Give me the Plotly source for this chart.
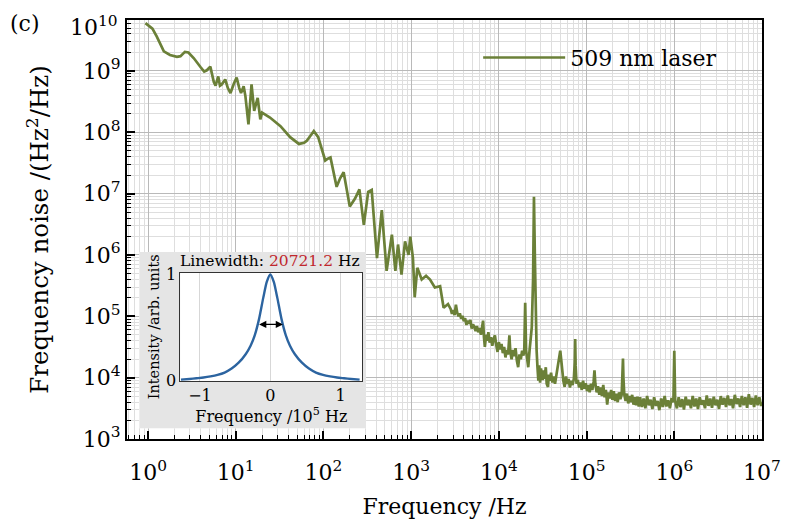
import numpy as np
import plotly.graph_objects as go

# ---------------- data ----------------
# main spectrum: log10(frequency / Hz) and log10(noise / (Hz^2/Hz))
log_freq = [
    -0.03, 0.05, 0.10, 0.14, 0.18, 0.25, 0.33, 0.37, 0.42, 0.46, 0.52, 0.60, 0.64, 0.67, 0.71,
    0.75, 0.77, 0.80, 0.82, 0.84, 0.88, 0.91, 0.94, 0.98, 1.01, 1.04, 1.06, 1.09, 1.11, 1.145,
    1.18, 1.21, 1.25, 1.28, 1.30, 1.39, 1.51, 1.62, 1.72, 1.78, 1.81, 1.86, 1.89, 1.94, 2.02,
    2.05, 2.08, 2.15, 2.19, 2.23, 2.27, 2.30, 2.36, 2.41, 2.46, 2.51, 2.55, 2.61, 2.665, 2.72,
    2.78, 2.82, 2.85, 2.89, 2.93, 2.97, 2.99, 3.02, 3.04, 3.07, 3.12, 3.17, 3.215, 3.27, 3.33,
    3.35, 3.37, 3.42,
    3.45, 3.465, 3.48, 3.495, 3.51, 3.525, 3.54, 3.555, 3.57, 3.585, 3.60, 3.615, 3.63, 3.645,
    3.66, 3.675, 3.69, 3.705, 3.72, 3.735, 3.75, 3.765, 3.78, 3.795, 3.81, 3.82, 3.83, 3.84,
    3.855, 3.87, 3.88, 3.895, 3.91, 3.925, 3.94, 3.955, 3.97, 3.985, 4.00, 4.015, 4.03, 4.045,
    4.06, 4.075, 4.09, 4.105, 4.12, 4.13, 4.145, 4.16, 4.175, 4.19, 4.205, 4.22, 4.235, 4.25,
    4.265, 4.28, 4.29, 4.30, 4.31, 4.32, 4.335, 4.35, 4.365, 4.375, 4.39, 4.40, 4.41, 4.42,
    4.43, 4.44, 4.45, 4.46, 4.47, 4.48, 4.49, 4.50, 4.51, 4.52, 4.535, 4.545, 4.56, 4.57,
    4.58, 4.595, 4.61, 4.625, 4.64, 4.655, 4.67, 4.685, 4.70, 4.71, 4.72, 4.735, 4.75, 4.765,
    4.78, 4.795, 4.81, 4.825, 4.84, 4.855, 4.865, 4.87, 4.875, 4.885, 4.90, 4.915, 4.93, 4.945,
    4.96, 4.975, 4.99, 5.005, 5.02, 5.035, 5.05, 5.065, 5.08, 5.09, 5.10, 5.115, 5.13, 5.145,
    5.16, 5.175, 5.19, 5.205, 5.22, 5.235, 5.25, 5.265, 5.28, 5.295, 5.31, 5.325, 5.34, 5.355,
    5.37, 5.385, 5.40, 5.41, 5.415, 5.42, 5.43, 5.445, 5.46, 5.475, 5.49, 5.505, 5.52, 5.535,
    5.55, 5.565, 5.58, 5.595,
    5.61, 5.63, 5.65, 5.67, 5.69, 5.71, 5.73,
    5.75, 5.77, 5.79, 5.81, 5.83, 5.85, 5.87, 5.89, 5.91, 5.93, 5.95, 5.97, 5.99, 6.00, 6.01,
    6.03, 6.05, 6.07, 6.09, 6.11, 6.13, 6.15, 6.17, 6.19, 6.21, 6.23, 6.25, 6.27, 6.29, 6.31,
    6.33, 6.35, 6.37, 6.39, 6.41, 6.43, 6.45, 6.47, 6.49, 6.51, 6.53, 6.55, 6.57, 6.59, 6.61,
    6.63, 6.65, 6.67, 6.69, 6.71, 6.73, 6.75, 6.77, 6.79, 6.81, 6.83, 6.85, 6.87, 6.89, 6.91,
    6.93, 6.95, 6.97, 6.99, 7.00,
]
log_noise = [
    9.78, 9.69, 9.56, 9.43, 9.32, 9.26, 9.23, 9.24, 9.31, 9.30, 9.21, 9.06, 8.99, 9.01, 9.07,
    8.82, 8.76, 8.91, 8.76, 8.78, 8.86, 8.72, 8.64, 8.80, 8.89, 8.72, 8.64, 8.75, 8.59, 8.13,
    8.78, 8.35, 8.56, 8.21, 8.32, 8.24, 8.10, 7.92, 7.81, 7.83, 7.86, 7.96, 8.02, 7.92, 7.54,
    7.57, 7.59, 7.11, 7.25, 7.35, 7.00, 6.79, 6.92, 7.07, 6.49, 7.03, 7.06, 5.95, 6.73, 5.74,
    6.33, 5.74, 6.17, 5.68, 6.22, 6.00, 6.30, 5.95, 5.31, 5.79, 5.60, 5.66, 5.60, 5.47, 5.49,
    5.31, 5.14, 5.20,
    5.12, 5.04, 5.10, 5.02, 5.19, 5.06, 5.00, 5.05, 4.96, 5.01, 4.92, 4.97, 4.86, 4.93,
    4.88, 4.94, 4.80, 4.87, 4.83, 4.76, 4.84, 4.74, 4.81, 4.70, 4.82, 4.93, 4.66, 4.50,
    4.70, 4.60, 4.74, 4.57, 4.66, 4.52, 4.63, 4.69, 4.53, 4.42, 4.58, 4.46, 4.55, 4.40,
    4.50, 4.33, 4.45, 4.38, 4.69, 4.42, 4.30, 4.45, 4.35, 4.48, 4.28, 4.17, 4.38, 4.30,
    4.44, 4.36, 4.47, 5.22, 4.45, 4.30, 4.17, 4.45, 4.62, 4.82, 5.60, 6.95, 6.00, 5.10,
    4.45, 4.17, 3.95, 4.20, 3.92, 4.15, 4.00, 3.96, 4.12, 3.98, 4.17, 3.90, 3.85, 4.05,
    3.95, 4.08, 3.92, 4.02, 3.90, 4.05, 4.15, 4.35, 4.44, 4.30, 4.12, 3.95, 3.85, 4.02,
    3.90, 3.98, 3.84, 3.95, 3.88, 3.98, 4.25, 4.63, 4.20, 3.90, 3.96, 3.84, 3.92, 3.80,
    3.95, 3.82, 3.91, 3.78, 3.88, 3.76, 3.90, 3.80, 3.93, 4.12, 3.90, 3.76, 3.86, 3.72,
    3.84, 3.70, 3.88, 3.68, 3.80, 3.56, 3.76, 3.66, 3.80, 3.64, 3.78, 3.62, 3.74, 3.60,
    3.76, 3.65, 3.72, 4.00, 4.31, 4.00, 3.72, 3.62, 3.74, 3.58, 3.70, 3.60, 3.72, 3.56,
    3.68, 3.55, 3.69, 3.53,
    3.68, 3.52, 3.66, 3.50, 3.70, 3.55, 3.64,
    3.49, 3.68, 3.54, 3.62, 3.47, 3.66, 3.52, 3.70, 3.53, 3.63, 3.50, 3.67, 3.60, 4.44, 3.62,
    3.50, 3.68, 3.52, 3.65, 3.48, 3.69, 3.55, 3.64, 3.50, 3.70, 3.53, 3.66, 3.49, 3.68, 3.56,
    3.63, 3.50, 3.71, 3.54, 3.66, 3.51, 3.69, 3.55, 3.64, 3.49, 3.70, 3.56, 3.67, 3.52, 3.71,
    3.55, 3.65, 3.50, 3.72, 3.57, 3.66, 3.52, 3.70, 3.55, 3.68, 3.51, 3.73, 3.56, 3.67, 3.52,
    3.71, 3.55, 3.68, 3.54, 3.60,
]

# inset: laser line shape (frequency in units of 1e5 Hz, normalized intensity)
inset_freq = [-1.27, -1.15, -1.05, -0.95, -0.85, -0.75, -0.65, -0.55, -0.45, -0.35, -0.28,
              -0.22, -0.16, -0.10, -0.05, 0.0, 0.05, 0.10, 0.16, 0.22, 0.28, 0.35, 0.45,
              0.55, 0.65, 0.75, 0.85, 0.95, 1.05, 1.15, 1.27]
inset_int = [0.010, 0.017, 0.024, 0.031, 0.041, 0.055, 0.077, 0.115, 0.17, 0.25, 0.33,
             0.43, 0.58, 0.78, 0.93, 1.0, 0.93, 0.78, 0.58, 0.43, 0.33, 0.25, 0.17,
             0.115, 0.077, 0.055, 0.041, 0.031, 0.024, 0.017, 0.010]
arrow_x = [-0.18, 0.18]
arrow_y = 0.53
linewidth_text = "20721.2"

x_tick_exp = [0, 1, 2, 3, 4, 5, 6, 7]
y_tick_exp = [3, 4, 5, 6, 7, 8, 9]

# ---------------- figure ----------------
FONT = "DejaVu Serif"
GREEN = "#6b8038"
BLUE = "#2c64a0"

freq = np.power(10.0, log_freq)
noise = np.power(10.0, log_noise)

fig = go.Figure()
fig.add_trace(go.Scatter(x=freq, y=noise, mode="lines", name="509 nm laser",
                         line=dict(color=GREEN, width=2.7), xaxis="x", yaxis="y",
                         showlegend=True))
fig.add_trace(go.Scatter(x=inset_freq, y=inset_int, mode="lines", line=dict(color=BLUE, width=2.4,
                         shape="spline", smoothing=0.6), xaxis="x3", yaxis="y3", showlegend=False))

major_grid = "rgb(185,185,185)"
minor_grid = "rgb(222,222,222)"

fig.update_layout(
    width=800, height=527,
    margin=dict(l=127, r=38, t=20, b=84),
    paper_bgcolor="white", plot_bgcolor="white",
    font=dict(family=FONT, size=22, color="black"),
    xaxis=dict(
        type="log", range=[-0.24, 7.0], domain=[0, 1],
        tickvals=[10 ** e for e in x_tick_exp],
        ticktext=[f"10<sup>{e}</sup>" for e in x_tick_exp],
        ticks="inside", ticklen=8, tickwidth=1.5, tickcolor="black",
        showline=True, linecolor="black", linewidth=2, mirror=True,
        showgrid=True, gridcolor=major_grid, gridwidth=1, zeroline=False,
        minor=dict(dtick="D1", ticks="inside", ticklen=4, tickwidth=1.2, tickcolor="black",
                   showgrid=True, gridcolor=minor_grid, gridwidth=1),
        tickfont=dict(size=22), ticklabelstandoff=13,
        title=dict(text="Frequency /Hz", font=dict(size=22), standoff=14),
    ),
    yaxis=dict(
        type="log", range=[3.0, 9.83], domain=[0, 1],
        tickvals=[10 ** e for e in y_tick_exp],
        ticktext=[f"10<sup>{e}</sup>" for e in y_tick_exp],
        ticks="inside", ticklen=8, tickwidth=1.5, tickcolor="black",
        showline=True, linecolor="black", linewidth=2, mirror=True,
        showgrid=True, gridcolor=major_grid, gridwidth=1, zeroline=False,
        minor=dict(dtick="D1", ticks="inside", ticklen=4, tickwidth=1.2, tickcolor="black",
                   showgrid=True, gridcolor=minor_grid, gridwidth=1),
        tickfont=dict(size=22),
        title=dict(text="Frequency noise /(Hz<sup>2</sup>/Hz)", font=dict(size=24.5), standoff=27),
    ),
    # grey panel behind the inset
    xaxis2=dict(domain=[0.0194, 0.3765], range=[0, 1], visible=False, anchor="y2", fixedrange=True),
    yaxis2=dict(domain=[0.0253, 0.4464], range=[0, 1], visible=False, anchor="x2", fixedrange=True),
    # inset axes
    xaxis3=dict(
        domain=[0.0839, 0.3707], range=[-1.28, 1.31], anchor="y3",
        tickvals=[-1, 0, 1], ticks="", showline=True, linecolor="#333", linewidth=1, mirror=True,
        showgrid=True, gridcolor="rgb(215,215,215)", gridwidth=1, zeroline=False,
        tickfont=dict(size=16),
        title=dict(text="Frequency /10<sup>5</sup> Hz", font=dict(size=16), standoff=2),
    ),
    yaxis3=dict(
        domain=[0.1389, 0.3967], range=[0, 1.016], anchor="x3",
        tickvals=[0, 1], ticks="", showline=True, linecolor="#333", linewidth=1, mirror=True,
        showgrid=False, zeroline=False, tickfont=dict(size=16),
        title=dict(text="Intensity /arb. units", font=dict(size=14.5), standoff=2),
    ),
    legend=dict(x=0.553, y=0.91, xanchor="left", yanchor="middle", bgcolor="rgba(0,0,0,0)",
                font=dict(size=22), itemwidth=82),
    showlegend=True,
)

fig.add_shape(type="rect", xref="x2", yref="y2", x0=0, x1=1, y0=0, y1=1,
              fillcolor="rgba(226,226,226,0.9)", line=dict(width=0), layer="below")
fig.add_shape(type="rect", xref="x3", yref="y3", x0=-1.28, x1=1.31, y0=0, y1=1.016,
              fillcolor="white", line=dict(width=0), layer="below")

fig.add_annotation(xref="x3", yref="y3", axref="x3", ayref="y3",
                   x=arrow_x[1], y=arrow_y, ax=arrow_x[0], ay=arrow_y,
                   showarrow=True, arrowhead=2, arrowside="end+start", arrowsize=1.2,
                   arrowwidth=1.2, arrowcolor="black", text="")
fig.add_annotation(xref="x3 domain", yref="y3 domain", x=0.49, y=1.0, yshift=12,
                   xanchor="center", yanchor="middle", showarrow=False,
                   text=f"Linewidth: <span style='color:#c0272d'>{linewidth_text}</span> Hz",
                   font=dict(size=15.5))
fig.add_annotation(xref="paper", yref="paper", x=0, y=1, xshift=-7, yshift=-6,
                   xanchor="right", yanchor="middle", showarrow=False,
                   text="10<sup>10</sup>", font=dict(size=22))
fig.add_annotation(xref="paper", yref="paper", x=-0.187, y=1, xanchor="left", yanchor="middle",
                   yshift=-3, showarrow=False, text="(c)", font=dict(size=22))

fig.write_html("out.html")
